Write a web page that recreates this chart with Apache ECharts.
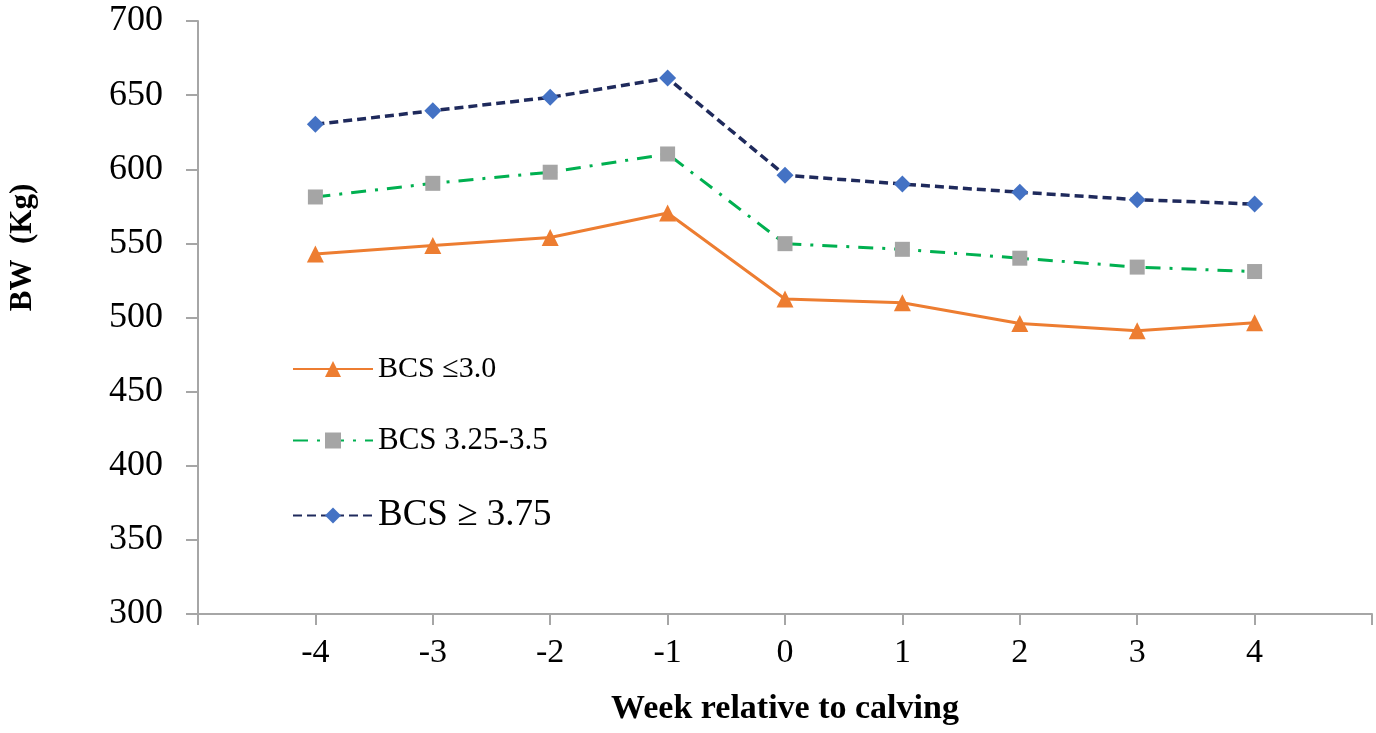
<!DOCTYPE html>
<html>
<head>
<meta charset="utf-8">
<script src="https://cdn.jsdelivr.net/npm/echarts@6/dist/echarts.min.js"></script>
<style>html,body{margin:0;padding:0;background:#fff}#c{width:1376px;height:733px}</style>
</head>
<body>
<div id="c"></div>
<script>
const weeks = [-4, -3, -2, -1, 0, 1, 2, 3, 4];
const bcsLow = [542.8, 548.5, 554, 570.5, 512.5, 510, 496, 491, 496.5];
const bcsMid = [581.3, 590.5, 598, 610.3, 549.8, 546, 540, 534, 531];
const bcsHigh = [630.3, 639.5, 648.5, 661.5, 596, 590, 584.5, 579.5, 576.5];
const names = ['BCS \u22643.0', 'BCS 3.25-3.5', 'BCS \u2265 3.75'];

const font = 'Liberation Serif, Times New Roman, serif';
const toPts = arr => arr.map((v, i) => [weeks[i], v]);

const chart = echarts.init(document.getElementById('c'));
chart.setOption({
  animation: false,
  backgroundColor: '#fff',
  grid: { left: 198, right: 4, top: 21, bottom: 119, outerBoundsMode: 'none', containLabel: false },
  xAxis: {
    type: 'value', min: -5, max: 5, interval: 1,
    name: 'Week relative to calving', nameLocation: 'middle', nameGap: 78,
    nameTextStyle: { fontFamily: font, fontSize: 34, fontWeight: 'bold', color: '#000' },
    axisLine: { onZero: false, lineStyle: { color: '#A6A6A6', width: 2 } },
    axisTick: { show: true, length: 11, lineStyle: { color: '#A6A6A6', width: 2 } },
    splitLine: { show: false },
    axisLabel: {
      fontFamily: font, fontSize: 34, color: '#000', margin: 22,
      formatter: v => (v <= -5 || v >= 5) ? '' : String(v)
    }
  },
  yAxis: {
    type: 'value', min: 300, max: 700, interval: 50,
    name: 'BW  (Kg)', nameLocation: 'middle', nameGap: 160,
    nameTextStyle: { fontFamily: font, fontSize: 31, fontWeight: 'bold', color: '#000', padding: [0, 0, 0, 140] },
    axisLine: { show: true, onZero: false, lineStyle: { color: '#A6A6A6', width: 2 } },
    axisTick: { show: true, length: 12, lineStyle: { color: '#A6A6A6', width: 2 } },
    splitLine: { show: false },
    axisLabel: { fontFamily: font, fontSize: 36, color: '#000', margin: 35 }
  },
  legend: {
    orient: 'vertical', left: 292, top: 354, itemGap: 41, padding: 0,
    itemWidth: 80, itemHeight: 20,
    textStyle: { fontFamily: font, fontSize: 30, color: '#000' },
    data: [
      { name: names[0] },
      { name: names[1], textStyle: { fontSize: 31 } },
      { name: names[2], textStyle: { fontSize: 37 } }
    ]
  },
  series: [
    {
      name: names[0], type: 'line', data: toPts(bcsLow),
      symbol: 'triangle', symbolSize: 17,
      lineStyle: { color: '#ED7D31', width: 3, type: 'solid' },
      itemStyle: { color: '#ED7D31' }
    },
    {
      name: names[1], type: 'line', data: toPts(bcsMid),
      symbol: 'rect', symbolSize: 15,
      lineStyle: { color: '#00B050', width: 3, type: [15, 9, 3, 9] },
      itemStyle: { color: '#A5A5A5' }
    },
    {
      name: names[2], type: 'line', data: toPts(bcsHigh),
      symbol: 'diamond', symbolSize: 17,
      lineStyle: { color: '#1F2A5C', width: 3.5, type: [9, 5] },
      itemStyle: { color: '#4472C4' }
    }
  ]
});
</script>
</body>
</html>
